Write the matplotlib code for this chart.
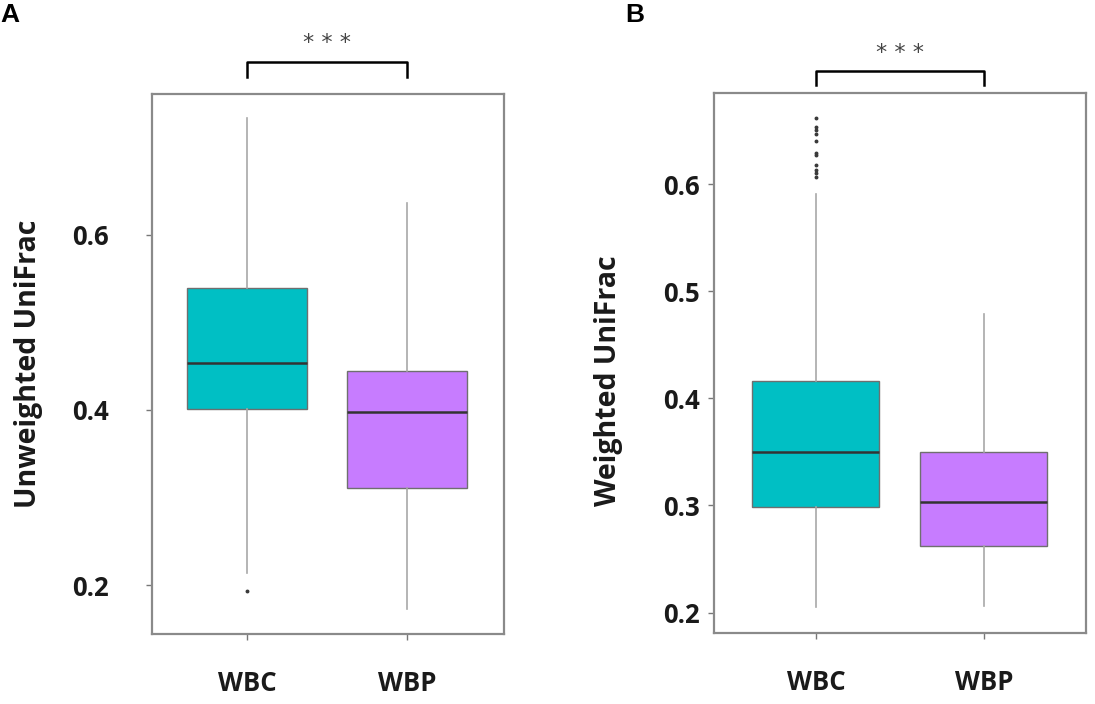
import matplotlib
matplotlib.use('Agg')
import matplotlib.pyplot as plt

plt.rcParams['font.family'] = ['Open Sans', 'DejaVu Sans']

groups = ['WBC', 'WBP']
colors = ['#00BFC4', '#C77CFF']

# panel A - unweighted unifrac
unw_q1 = [0.401, 0.311]
unw_med = [0.454, 0.398]
unw_q3 = [0.539, 0.445]
unw_lo = [0.214, 0.173]
unw_hi = [0.734, 0.637]
unw_fliers = [[0.193], []]

# panel B - weighted unifrac
w_q1 = [0.299, 0.262]
w_med = [0.350, 0.303]
w_q3 = [0.416, 0.350]
w_lo = [0.205, 0.206]
w_hi = [0.591, 0.479]
w_fliers = [[0.662, 0.653, 0.650, 0.647, 0.640, 0.629, 0.627,
             0.618, 0.613, 0.610, 0.607], []]


def make_stats(q1, med, q3, lo, hi, fliers):
    out = []
    for i in range(len(groups)):
        out.append(dict(q1=q1[i], med=med[i], q3=q3[i], whislo=lo[i],
                        whishi=hi[i], fliers=fliers[i], label=groups[i]))
    return out


def draw_panel(ax, stats, ylim, yticks, ylabel, width, xlim, ypad, labpos,
               bracket_y, tick_y, star_y, letter, letter_x):
    bp = ax.bxp(stats, positions=[1, 2], widths=width, patch_artist=True,
                showcaps=False,
                boxprops=dict(edgecolor='#6f6f6f', linewidth=1.0),
                medianprops=dict(color='#333333', linewidth=1.8),
                whiskerprops=dict(color='#a8a8a8', linewidth=1.2),
                flierprops=dict(marker='o', markersize=1.8,
                                markerfacecolor='#3a3a3a',
                                markeredgecolor='#3a3a3a'))
    for patch, c in zip(bp['boxes'], colors):
        patch.set_facecolor(c)
    ax.set_xlim(*xlim)
    ax.set_ylim(*ylim)
    ax.set_yticks(yticks)
    ax.set_yticklabels(['%.1f' % t for t in yticks])
    for sp in ax.spines.values():
        sp.set_color('#8a8a8a')
        sp.set_linewidth(1.6)
    ax.tick_params(axis='both', length=4, width=1, color='#777777',
                   labelsize=18.5)
    ax.tick_params(axis='y', pad=ypad)
    ax.tick_params(axis='x', pad=22)
    for lab in ax.get_xticklabels() + ax.get_yticklabels():
        lab.set_fontweight('bold')
        lab.set_color('#1a1a1a')
    ax.set_ylabel(ylabel, fontsize=20.5, fontweight='bold', color='#1a1a1a')
    ax.yaxis.set_label_coords(*labpos)

    tr = ax.get_xaxis_transform()
    ax.plot([1, 1, 2, 2], [tick_y, bracket_y, bracket_y, tick_y],
            color='black', linewidth=1.8, transform=tr, clip_on=False)
    ax.text(1.5, star_y, '* * *', transform=tr, ha='center', va='center',
            fontsize=16, color='#444444', family='DejaVu Sans')
    fig.text(letter_x, 0.978, letter, fontsize=19, fontweight='bold',
             family='Liberation Sans', va='center', ha='left')


fig = plt.figure(figsize=(10.95, 7.04), dpi=100)
ax1 = fig.add_axes([0.1388, 0.0994, 0.3215, 0.767])
ax2 = fig.add_axes([0.652, 0.1009, 0.3397, 0.767])

draw_panel(ax1, make_stats(unw_q1, unw_med, unw_q3, unw_lo, unw_hi, unw_fliers),
           (0.144, 0.761), [0.2, 0.4, 0.6], 'Unweighted UniFrac', 0.75,
           (0.406, 2.606), 27, (-0.31, 0.5), 1.059, 1.031, 1.095, 'A', 0.0)
draw_panel(ax2, make_stats(w_q1, w_med, w_q3, w_lo, w_hi, w_fliers),
           (0.181, 0.685), [0.2, 0.3, 0.4, 0.5, 0.6], 'Weighted UniFrac', 0.756,
           (0.393, 2.607), 6, (-0.245, 0.467), 1.041, 1.015, 1.075, 'B', 0.571)

fig.savefig('out.png', dpi=100)
